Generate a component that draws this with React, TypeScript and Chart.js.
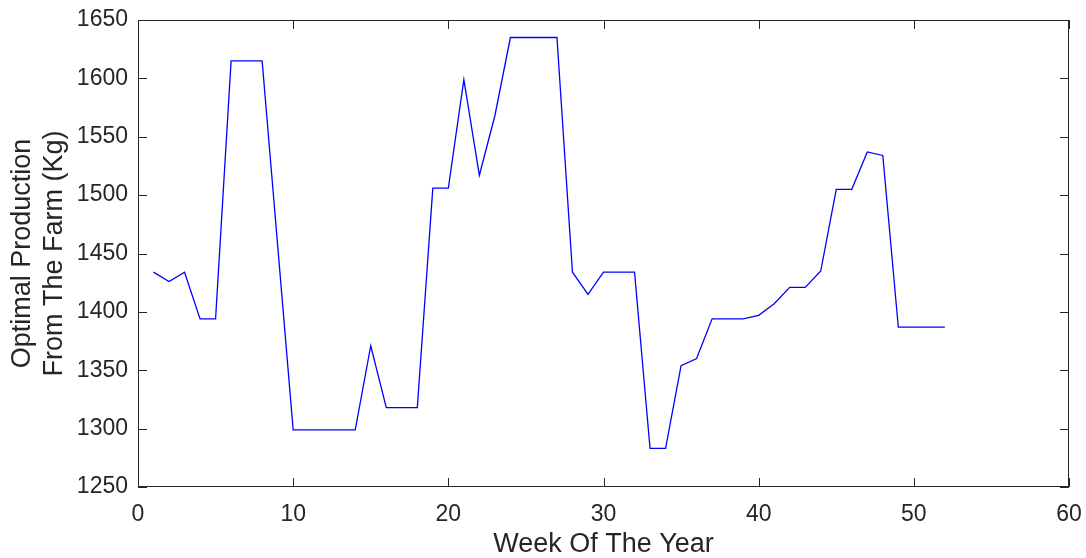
import React, { useEffect, useRef } from "react";
import { Chart, registerables } from "chart.js";

Chart.register(...registerables);

const weeks: number[] = Array.from({ length: 52 }, (_, i) => i + 1);
const production: number[] = [
  1434, 1426, 1434, 1394, 1394, 1615, 1615, 1615, 1457, 1299,
  1299, 1299, 1299, 1299, 1371, 1318, 1318, 1318, 1506, 1506,
  1599, 1517, 1568, 1635, 1635, 1635, 1635, 1434, 1415, 1434,
  1434, 1434, 1283, 1283, 1354, 1360, 1394, 1394, 1394, 1397,
  1407, 1421, 1421, 1435, 1505, 1505, 1537, 1534, 1387, 1387,
  1387, 1387,
];
const xTicks: number[] = [0, 10, 20, 30, 40, 50, 60];
const yTicks: number[] = [1250, 1300, 1350, 1400, 1450, 1500, 1550, 1600, 1650];
const xTitle = "Week Of The Year";
const yTitle = ["Optimal Production", "From The Farm (Kg)"];

const AXIS_COLOR = "#262626";
const FONT = "'Liberation Sans', Arial, Helvetica, sans-serif";

const boxTicksPlugin = {
  id: "boxTicks",
  afterDraw(chart: any) {
    const { ctx, chartArea, scales } = chart;
    const { left, right, top, bottom } = chartArea;
    const len = 9;
    ctx.save();
    ctx.strokeStyle = AXIS_COLOR;
    ctx.lineWidth = 1;
    ctx.beginPath();
    ctx.rect(left + 0.5, top + 0.5, right - left - 1, bottom - top - 1);
    for (const v of xTicks) {
      const x = Math.round(scales.x.getPixelForValue(v)) + 0.5;
      ctx.moveTo(x, bottom);
      ctx.lineTo(x, bottom - len);
      ctx.moveTo(x, top);
      ctx.lineTo(x, top + len);
    }
    for (const v of yTicks) {
      const y = Math.round(scales.y.getPixelForValue(v)) + 0.5;
      ctx.moveTo(left, y);
      ctx.lineTo(left + len, y);
      ctx.moveTo(right, y);
      ctx.lineTo(right - len, y);
    }
    ctx.stroke();
    ctx.restore();
  },
};

export default function App() {
  const ref = useRef<HTMLCanvasElement | null>(null);

  useEffect(() => {
    if (!ref.current) return;
    const chart = new Chart(ref.current, {
      type: "line",
      data: {
        datasets: [
          {
            data: weeks.map((w, i) => ({ x: w, y: production[i] })),
            borderColor: "#0000FF",
            borderWidth: 1.3,
            pointRadius: 0,
            tension: 0,
            fill: false,
          },
        ],
      },
      options: {
        responsive: false,
        animation: false,
        layout: { padding: { top: 20, right: 17, left: 0, bottom: 0 } },
        plugins: { legend: { display: false }, tooltip: { enabled: false } },
        scales: {
          x: {
            type: "linear",
            min: 0,
            max: 60,
            afterBuildTicks: (s: any) => {
              s.ticks = xTicks.map((v) => ({ value: v }));
            },
            afterFit: (s: any) => {
              s.height = 71;
              s.paddingLeft = 0;
              s.paddingRight = 0;
            },
            grid: { display: false, drawTicks: false },
            border: { display: false },
            ticks: {
              color: AXIS_COLOR,
              padding: 14,
              maxRotation: 0,
              autoSkip: false,
              font: { family: FONT, size: 23 },
              callback: (v: any) => String(v),
            },
            title: {
              display: true,
              text: xTitle,
              color: AXIS_COLOR,
              padding: { top: 0, bottom: 0 },
              font: { family: FONT, size: 27, lineHeight: 1.0 },
            },
          },
          y: {
            type: "linear",
            min: 1250,
            max: 1650,
            afterBuildTicks: (s: any) => {
              s.ticks = yTicks.map((v) => ({ value: v }));
            },
            afterFit: (s: any) => {
              s.width = 138;
              s.paddingTop = 0;
              s.paddingBottom = 0;
            },
            grid: { display: false, drawTicks: false },
            border: { display: false },
            ticks: {
              color: AXIS_COLOR,
              padding: 10,
              font: { family: FONT, size: 23 },
              callback: (v: any) => String(v),
            },
            title: {
              display: true,
              text: yTitle,
              color: AXIS_COLOR,
              padding: { top: 6, bottom: 0 },
              font: { family: FONT, size: 27, lineHeight: 1.2 },
            },
          },
        },
      },
      plugins: [boxTicksPlugin],
    });
    return () => chart.destroy();
  }, []);

  return (
    <div style={{ position: "absolute", left: 0, top: 0, width: 1086, height: 558, background: "#fff" }}>
      <canvas ref={ref} width={1086} height={558} />
    </div>
  );
}
